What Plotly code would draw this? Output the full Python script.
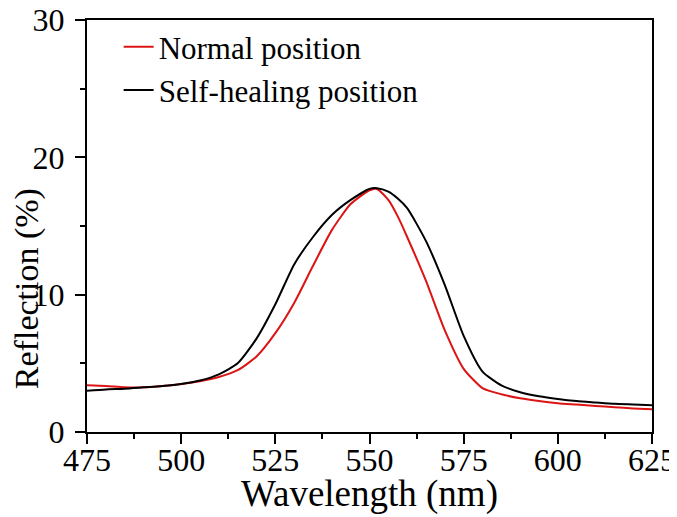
import plotly.graph_objects as go

# wavelength grid (nm)
wavelength = [475, 480, 485, 490, 495, 500, 505, 510, 515, 520, 525, 530, 535, 540,
              545, 550, 552, 555, 557.5, 560, 565, 570, 575, 580, 585, 590, 595, 600,
              605, 610, 615, 620, 625]

# reflection (%)
normal = [3.4, 3.35, 3.25, 3.25, 3.35, 3.5, 3.7, 4.0, 4.5, 5.5, 7.2, 9.4, 12.1, 14.7,
          16.6, 17.6, 17.7, 16.9, 15.7, 14.2, 11.0, 7.4, 4.6, 3.2, 2.75, 2.45, 2.25,
          2.1, 2.0, 1.9, 1.8, 1.72, 1.65]
healing = [3.0, 3.1, 3.15, 3.25, 3.35, 3.5, 3.75, 4.2, 5.0, 6.8, 9.3, 12.2, 14.2, 15.8,
           16.9, 17.7, 17.75, 17.5, 17.0, 16.3, 13.9, 10.7, 7.0, 4.4, 3.4, 2.9, 2.6,
           2.4, 2.25, 2.15, 2.05, 2.0, 1.95]

FONT = "Liberation Serif"

fig = go.Figure()
fig.add_trace(go.Scatter(x=wavelength, y=normal, mode="lines", name="Normal position",
                         line=dict(color="rgb(220,20,20)", width=2, shape="spline", smoothing=0.6)))
fig.add_trace(go.Scatter(x=wavelength, y=healing, mode="lines", name="Self-healing position",
                         line=dict(color="black", width=2, shape="spline", smoothing=0.6)))

axis_common = dict(showline=True, linecolor="black", linewidth=2, mirror=True,
                   showgrid=False, zeroline=False, ticks="outside", ticklen=10,
                   tickwidth=2, tickcolor="black", automargin=False,
                   ticklabeloverflow="allow",
                   tickfont=dict(family=FONT, size=32, color="black"))

fig.update_xaxes(range=[475, 625], tickvals=[475, 500, 525, 550, 575, 600, 625],
                 minor=dict(ticks="outside", ticklen=5, tickwidth=2, tickcolor="black", dtick=12.5, tick0=475),
                 ticklabelstandoff=-11, **axis_common)
fig.update_yaxes(range=[0, 30], tickvals=[0, 10, 20, 30],
                 minor=dict(ticks="outside", ticklen=5, tickwidth=2, tickcolor="black", dtick=5, tick0=0),
                 ticklabelstandoff=4, **axis_common)

# axis titles (placed to match the original layout)
fig.add_annotation(text="Wavelength (nm)", xref="paper", yref="paper", x=0.5, y=-0.150,
                   xanchor="center", yanchor="middle", showarrow=False,
                   font=dict(family=FONT, size=37, color="black"))
fig.add_annotation(text="Reflection (%)", xref="paper", yref="paper", x=-0.106, y=0.347,
                   xanchor="center", yanchor="middle", textangle=-90, showarrow=False,
                   font=dict(family=FONT, size=34, color="black"))

fig.update_layout(
    width=677, height=517,
    margin=dict(l=79, r=33, t=12, b=93),
    paper_bgcolor="white", plot_bgcolor="white",
    legend=dict(x=0.056, y=1.0, xanchor="left", yanchor="top", bgcolor="rgba(0,0,0,0)",
                font=dict(family=FONT, size=31, color="black"), tracegroupgap=0,
                itemwidth=30),
)

fig.write_html("out.html")
